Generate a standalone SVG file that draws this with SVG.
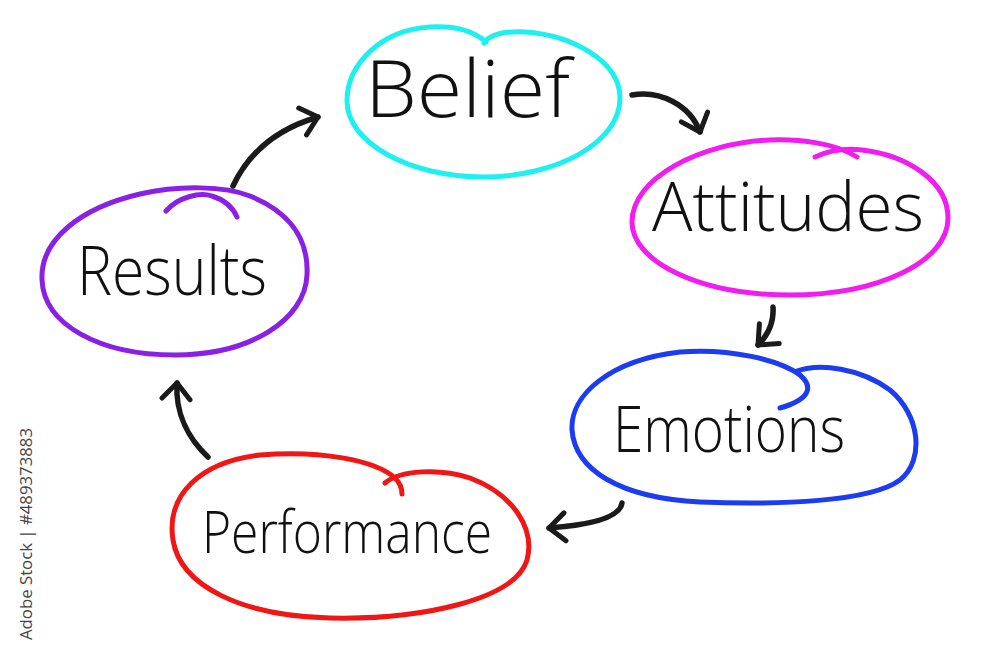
<svg xmlns="http://www.w3.org/2000/svg" width="1000" height="667" viewBox="0 0 1000 667">
  <style>
    .ring { fill: none; stroke-width: 5; stroke-linecap: round; stroke-linejoin: round; }
    .label { font-family: "Open Sans", "Liberation Sans", "DejaVu Sans", sans-serif; font-weight: 300; fill: #111; }
    .arrow { fill: none; stroke: #1a1a1a; stroke-width: 5.5; stroke-linecap: round; stroke-linejoin: round; marker-end: url(#head); }
    .stock { font-family: "Open Sans", "Liberation Sans", sans-serif; fill: #444; font-size: 17px; }
  </style>
  <defs>
    <marker id="head" viewBox="0 0 24 34" refX="19" refY="17" markerWidth="24" markerHeight="34" markerUnits="userSpaceOnUse" orient="auto">
      <path d="M 3,3 L 19,17 L 3,31" fill="none" stroke="#1a1a1a" stroke-width="5" stroke-linecap="round" stroke-linejoin="round"/>
    </marker>
  </defs>
  <rect width="1000" height="667" fill="#ffffff"/>

  <g id="belief">
    <path class="ring" stroke="#1ef0f0" d="M 486,42 C 470,28 450,26 430,27 C 380,30 347,65 347,101 C 347,143 410,177 483,177 C 556,177 620,143 620,98 C 620,60 570,35 525,32 C 505,31 490,34 484,43"/>
    <text class="label" x="365" y="117" font-size="80" textLength="205" lengthAdjust="spacingAndGlyphs">Belief</text>
  </g>

  <g id="attitudes">
    <path class="ring" stroke="#f01cf0" d="M 857,157 C 835,143 800,139 770,140 C 700,143 632,178 632,222 C 632,262 700,295 790,295 C 878,295 948,262 948,218 C 948,180 905,155 862,150 C 845,148 828,151 815,157"/>
    <text class="label" x="652" y="231" font-size="68" textLength="272" lengthAdjust="spacingAndGlyphs">Attitudes</text>
  </g>

  <g id="emotions">
    <path class="ring" stroke="#1c3cf2" d="M 797,371 C 820,363 860,368 890,390 C 920,415 925,460 900,480 C 870,502 780,505 700,502 C 620,498 575,470 572,430 C 570,395 610,360 680,352 C 730,348 780,360 800,375 C 815,388 808,400 780,408"/>
    <text class="label" x="613" y="452" font-size="64" textLength="232" lengthAdjust="spacingAndGlyphs">Emotions</text>
  </g>

  <g id="results">
    <path class="ring" stroke="#8a1fe6" d="M 250,196 C 225,186 180,185 140,194 C 80,208 40,240 42,280 C 44,325 100,355 175,355 C 250,355 305,320 307,275 C 309,235 285,210 250,196 M 166,211 C 178,197 200,192 212,196 C 225,200 233,208 237,217"/>
    <text class="label" x="77" y="295" font-size="68" textLength="190" lengthAdjust="spacingAndGlyphs">Results</text>
  </g>

  <g id="performance">
    <path class="ring" stroke="#f01616" d="M 385,483 C 400,470 440,468 470,478 C 515,495 535,530 527,560 C 515,600 420,620 330,618 C 240,616 180,585 173,540 C 166,495 200,462 260,455 C 320,450 375,460 395,478 C 400,483 402,488 402,494"/>
    <text class="label" x="202" y="553" font-size="58" textLength="290" lengthAdjust="spacingAndGlyphs">Performance</text>
  </g>

  <g id="connectors">
    <path class="arrow" d="M 233,186 C 250,150 280,128 318,117"/>
    <path class="arrow" d="M 632,95 C 660,90 690,105 700,132"/>
    <path class="arrow" d="M 773,307 C 774,322 768,335 758,345"/>
    <path class="arrow" d="M 622,503 C 620,518 590,525 549,528"/>
    <path class="arrow" d="M 208,457 C 190,440 175,415 177,383"/>
  </g>

  <text class="stock" transform="translate(32,640) rotate(-90)" textLength="212" lengthAdjust="spacingAndGlyphs">Adobe Stock | #489373883</text>
</svg>
